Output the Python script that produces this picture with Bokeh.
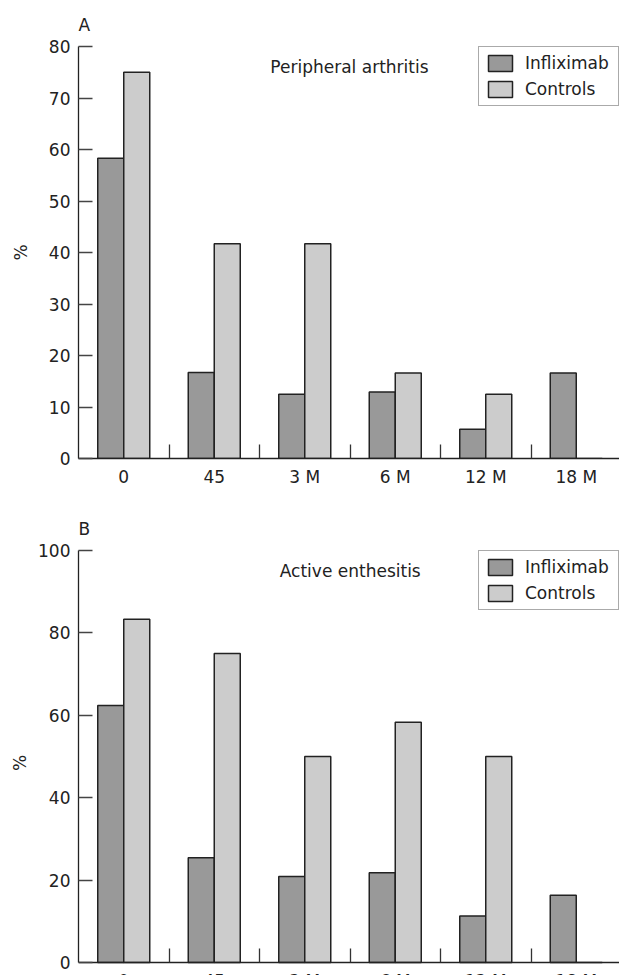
from bokeh.plotting import figure
from bokeh.models import Range1d, FixedTicker, Label, LinearAxis, ColumnDataSource
from bokeh.layouts import column
from bokeh.transform import dodge
from bokeh.embed import file_html
from bokeh.resources import INLINE

# ---- data ----
categories = ["0", "45", "3 M", "6 M", "12 M", "18 M"]
positions = [0, 1, 2, 3, 4, 5]

a_infliximab = [58.3, 16.7, 12.5, 12.9, 5.7, 16.6]
a_controls = [75.0, 41.7, 41.7, 16.6, 12.5, 0.0]

b_infliximab = [62.4, 25.4, 20.9, 21.8, 11.3, 16.3]
b_controls = [83.3, 75.0, 50.0, 58.3, 50.0, 0.0]

a_yticks = [0, 10, 20, 30, 40, 50, 60, 70, 80]
b_yticks = [0, 20, 40, 60, 80, 100]

series_names = ["Infliximab", "Controls"]
series_colors = ["#999999", "#cccccc"]

FONT = "DejaVu Sans"
FS = "17px"
W = 619
GROUP_PX = 90.5
FRAME_LEFT = 78
FRAME_W = W - FRAME_LEFT
X_END = -0.5 + FRAME_W / GROUP_PX
BAR_W = 26 / GROUP_PX
OFF = BAR_W / 2


def style_common(p, yticks, ymax, axis_label_standoff, panel_title):
    p.outline_line_color = None
    p.grid.visible = False
    p.background_fill_color = "white"
    p.border_fill_color = "white"
    p.title.text = panel_title
    p.title.align = "left"
    p.title.text_font = FONT
    p.title.text_font_size = FS
    p.title.text_font_style = "normal"
    p.title.text_color = "#222222"
    p.title.standoff = 23
    p.title.offset = 0
    ya = p.yaxis[0]
    ya.ticker = FixedTicker(ticks=yticks)
    ya.bounds = (0, ymax)
    ya.axis_label = "%"
    ya.axis_label_text_font = FONT
    ya.axis_label_text_font_size = FS
    ya.axis_label_text_font_style = "normal"
    ya.axis_label_text_color = "#222222"
    ya.axis_label_standoff = axis_label_standoff
    ya.major_label_text_font = FONT
    ya.major_label_text_font_size = FS
    ya.major_label_text_color = "#222222"
    ya.major_label_standoff = 8
    ya.major_tick_in = 14
    ya.major_tick_out = 0
    ya.major_tick_line_color = "#444444"
    ya.major_tick_line_width = 1.3
    ya.minor_tick_line_color = None
    ya.axis_line_color = "#222222"
    ya.axis_line_width = 1.3


def style_xaxis(xa):
    xa.ticker = FixedTicker(ticks=positions, minor_ticks=[0.5, 1.5, 2.5, 3.5, 4.5])
    xa.major_label_overrides = {pos: lab for pos, lab in zip(positions, categories)}
    xa.major_label_text_font = FONT
    xa.major_label_text_font_size = FS
    xa.major_label_text_color = "#222222"
    xa.major_label_standoff = 8
    xa.major_tick_in = 0
    xa.major_tick_out = 0
    xa.minor_tick_in = 14
    xa.minor_tick_out = 0
    xa.minor_tick_line_color = "#333333"
    xa.minor_tick_line_width = 1.3
    xa.axis_line_color = "#222222"
    xa.axis_line_width = 1.3


def add_bars(p, inf, ctl):
    src = ColumnDataSource(dict(pos=positions, inf=inf, ctl=ctl))
    p.vbar(x=dodge("pos", -OFF, range=p.x_range), top="inf", bottom=0, width=BAR_W,
           source=src, fill_color=series_colors[0], line_color="#222222",
           line_width=1.5, legend_label=series_names[0])
    p.vbar(x=dodge("pos", OFF, range=p.x_range), top="ctl", bottom=0, width=BAR_W,
           source=src, fill_color=series_colors[1], line_color="#222222",
           line_width=1.5, legend_label=series_names[1])


def style_legend(p):
    lg = p.legend[0]
    lg.location = "top_right"
    lg.margin = 0
    lg.padding = 6
    lg.spacing = 6
    lg.glyph_width = 30
    lg.glyph_height = 20
    lg.label_height = 20
    lg.label_width = 87
    lg.label_standoff = 10
    lg.label_text_font = FONT
    lg.label_text_font_size = FS
    lg.label_text_color = "#222222"
    lg.border_line_color = "#555555"
    lg.border_line_width = 1.2
    lg.background_fill_alpha = 1.0


# ---- panel A ----
pa = figure(width=W, height=500, output_backend="svg", toolbar_location=None,
            x_range=Range1d(-0.5, X_END), y_range=Range1d(0, 80),
            min_border_left=FRAME_LEFT, min_border_right=0,
            min_border_top=46, min_border_bottom=42)
style_common(pa, a_yticks, 80, 15, "A")
style_xaxis(pa.xaxis[0])
add_bars(pa, a_infliximab, a_controls)
style_legend(pa)
pa.add_layout(Label(x=1.62, y=76.0, text="Peripheral arthritis", text_font=FONT,
                    text_font_size=FS, text_color="#222222", text_baseline="alphabetic"))

# ---- panel B ----
B_H = 475
B_TOP = 50
B_FRAME_H = B_H - B_TOP
B_START = 100 - B_FRAME_H * 100 / 412
pb = figure(width=W, height=B_H, output_backend="svg", toolbar_location=None,
            x_range=Range1d(-0.5, X_END), y_range=Range1d(B_START, 100),
            x_axis_location=None,
            min_border_left=FRAME_LEFT, min_border_right=0,
            min_border_top=B_TOP, min_border_bottom=0)
style_common(pb, b_yticks, 100, 5, "B")
xb = LinearAxis(fixed_location=0)
style_xaxis(xb)
pb.add_layout(xb, "below")
add_bars(pb, b_infliximab, b_controls)
style_legend(pb)
pb.add_layout(Label(x=1.724, y=95.1, text="Active enthesitis", text_font=FONT,
                    text_font_size=FS, text_color="#222222", text_baseline="alphabetic"))

layout = column(pa, pb)
open("out.html", "w").write(file_html(layout, INLINE))
